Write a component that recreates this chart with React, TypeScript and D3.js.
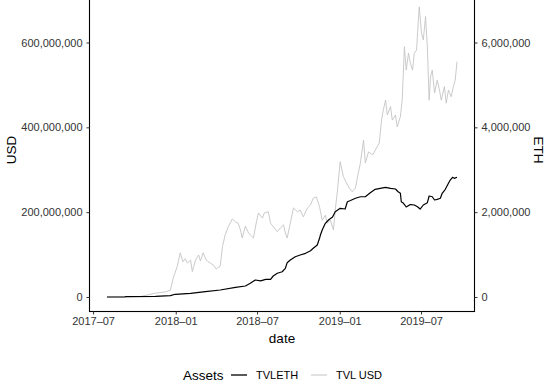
import React, { useRef, useEffect } from 'react';
import * as d3 from 'd3';

// TVL in USD (millions)
const usdDates = [
  "2017-08-01", "2017-09-11", "2017-10-14", "2017-11-17", "2017-12-09", "2017-12-20", "2017-12-27",
  "2018-01-04", "2018-01-11", "2018-01-17", "2018-01-22", "2018-01-27", "2018-02-03", "2018-02-07",
  "2018-02-14", "2018-02-21", "2018-02-25", "2018-03-03", "2018-03-10", "2018-03-19", "2018-03-26",
  "2018-04-01", "2018-04-10", "2018-04-15", "2018-04-21", "2018-04-28", "2018-05-07", "2018-05-14",
  "2018-05-20", "2018-05-25", "2018-05-29", "2018-06-05", "2018-06-12", "2018-06-16", "2018-06-23",
  "2018-06-29", "2018-07-04", "2018-07-13", "2018-07-17", "2018-07-26", "2018-07-31", "2018-08-06",
  "2018-08-15", "2018-08-22", "2018-08-29", "2018-09-02", "2018-09-06", "2018-09-13", "2018-09-20",
  "2018-09-29", "2018-10-05", "2018-10-12", "2018-10-21", "2018-10-28", "2018-11-03", "2018-11-10",
  "2018-11-17", "2018-11-23", "2018-11-30", "2018-12-04", "2018-12-11", "2018-12-18", "2018-12-22",
  "2018-12-27", "2019-01-02", "2019-01-09", "2019-01-16", "2019-01-22", "2019-01-29", "2019-02-05",
  "2019-02-09", "2019-02-16", "2019-02-23", "2019-02-27", "2019-03-06", "2019-03-15", "2019-03-21",
  "2019-03-30", "2019-04-04", "2019-04-08", "2019-04-13", "2019-04-17", "2019-04-24", "2019-04-28",
  "2019-05-05", "2019-05-09", "2019-05-16", "2019-05-20", "2019-05-25", "2019-05-29", "2019-06-03",
  "2019-06-07", "2019-06-12", "2019-06-16", "2019-06-21", "2019-06-25", "2019-06-27", "2019-07-02",
  "2019-07-06", "2019-07-11", "2019-07-15", "2019-07-19", "2019-07-22", "2019-07-26", "2019-07-31",
  "2019-08-06", "2019-08-11", "2019-08-15", "2019-08-22", "2019-08-26", "2019-08-31", "2019-09-06",
  "2019-09-11", "2019-09-15", "2019-09-19"
];
const usdValues = [
  0, 0.5, 1, 9, 12, 16, 47,
  71, 104, 83, 90, 80, 87, 60,
  87, 99, 85, 104, 87, 80, 75,
  66, 73, 119, 146, 166, 184, 177,
  174, 158, 139, 167, 151, 146, 139,
  174, 198, 186, 198, 201, 174, 166,
  154, 163, 170, 151, 139, 174, 210,
  201, 205, 189, 210, 217, 233, 236,
  213, 181, 193, 174, 181, 158, 205,
  252, 319, 284, 269, 257, 248, 257,
  280, 316, 370, 316, 342, 335, 346,
  363, 417, 441, 464, 429, 449, 417,
  429, 401, 425, 464, 590, 535, 575,
  552, 535, 575, 582, 653, 684, 622,
  606, 661, 590, 464, 519, 535, 481,
  511, 488, 464, 496, 457, 488, 472,
  496, 511, 555
];

// TVL in ETH (thousands)
const ethDates = [
  "2017-08-01", "2017-09-10", "2017-09-11", "2017-11-17", "2017-12-20", "2017-12-31", "2018-02-03",
  "2018-03-08", "2018-04-10", "2018-05-14", "2018-06-05", "2018-06-16", "2018-06-27", "2018-07-09",
  "2018-07-20", "2018-07-31", "2018-08-06", "2018-08-15", "2018-08-26", "2018-09-02", "2018-09-06",
  "2018-09-13", "2018-09-24", "2018-10-05", "2018-10-17", "2018-10-28", "2018-11-03", "2018-11-12",
  "2018-11-17", "2018-11-19", "2018-11-23", "2018-11-30", "2018-12-07", "2018-12-16", "2018-12-22",
  "2019-01-02", "2019-01-13", "2019-01-18", "2019-01-25", "2019-02-05", "2019-02-16", "2019-02-27",
  "2019-03-10", "2019-03-21", "2019-04-01", "2019-04-13", "2019-04-24", "2019-05-05", "2019-05-11",
  "2019-05-16", "2019-05-18", "2019-05-23", "2019-05-29", "2019-06-07", "2019-06-16", "2019-06-23",
  "2019-06-29", "2019-07-06", "2019-07-15", "2019-07-19", "2019-07-26", "2019-07-31", "2019-08-06",
  "2019-08-13", "2019-08-17", "2019-08-24", "2019-08-31", "2019-09-04", "2019-09-09", "2019-09-13",
  "2019-09-19"
];
const ethValues = [
  0, 0, 7, 16, 31, 64, 87,
  125, 165, 229, 259, 323, 401, 380,
  417, 417, 495, 559, 596, 677, 809,
  872, 950, 990, 1030, 1091, 1148, 1226,
  1384, 1462, 1579, 1737, 1815, 1886, 2011,
  2091, 2074, 2246, 2275, 2327, 2364, 2364,
  2459, 2539, 2562, 2586, 2562, 2546, 2482,
  2445, 2246, 2209, 2122, 2180, 2169, 2129,
  2074, 2169, 2223, 2381, 2364, 2287, 2303,
  2327, 2445, 2539, 2680, 2758, 2822, 2798,
  2822
];

const usdTicks = [0, 200e6, 400e6, 600e6];
const ethTicks = [0, 2e6, 4e6, 6e6];
const dateTicks = ["2017-07-01", "2018-01-01", "2018-07-01", "2019-01-01", "2019-07-01"];
const legendLabels = ["TVLETH", "TVL USD"];
const legendColors = ["#000000", "#c4c4c4"];

const FONT = "'Liberation Sans', Arial, sans-serif";

interface Pt { date: Date; value: number; }

export default function App() {
  const svgRef = useRef<SVGSVGElement>(null);

  useEffect(() => {
    if (!svgRef.current) return;
    const svg = d3.select(svgRef.current);
    svg.selectAll("*").remove();

    const parse = d3.timeParse("%Y-%m-%d");
    const usd: Pt[] = usdDates.map((d, i) => ({ date: parse(d) as Date, value: usdValues[i] * 1e6 }));
    const eth: Pt[] = ethDates.map((d, i) => ({ date: parse(d) as Date, value: ethValues[i] * 1e3 }));

    // x: data extent with 5% padding like ggplot
    const allDates = [...usd, ...eth].map(d => d.date);
    const [d0, d1] = d3.extent(allDates) as [Date, Date];
    const pad = (d1.getTime() - d0.getTime()) * 0.05;
    const left = 89.5, right = 474.5;
    const x = d3.scaleTime()
      .domain([new Date(d0.getTime() - pad), new Date(d1.getTime() + pad)])
      .range([left, right]);

    // y: USD on the left, ETH on the right (ETH = USD / 100)
    const yUsd = d3.scaleLinear().domain([0, 600e6]).range([297, 42.5]);
    const yEth = d3.scaleLinear().domain([0, 6e6]).range([297, 42.5]);
    const maxUsd = d3.max(usd, d => d.value) || 0;
    const bottom = yUsd(-0.05 * maxUsd);
    const top = yUsd(1.05 * maxUsd);

    const g = svg.append("g");

    // panel border (top runs off the picture)
    g.append("rect")
      .attr("x", left).attr("y", top)
      .attr("width", right - left).attr("height", bottom - top)
      .attr("fill", "none").attr("stroke", "#000").attr("stroke-width", 1.1);

    // lines
    const usdLine = d3.line<Pt>().x(d => x(d.date)).y(d => yUsd(d.value));
    const ethLine = d3.line<Pt>().x(d => x(d.date)).y(d => yEth(d.value));

    g.append("path").datum(usd)
      .attr("fill", "none").attr("stroke", legendColors[1]).attr("stroke-width", 0.9)
      .attr("stroke-linejoin", "round").attr("d", usdLine);

    g.append("path").datum(eth)
      .attr("fill", "none").attr("stroke", legendColors[0]).attr("stroke-width", 1.2)
      .attr("stroke-linejoin", "round").attr("d", ethLine);

    // axes
    const fmt = d3.format(",");
    const leftAxis = g.append("g").attr("transform", `translate(${left},0)`)
      .call(d3.axisLeft(yUsd).tickValues(usdTicks).tickFormat(d => fmt(d as number)).tickSize(3).tickPadding(4));
    leftAxis.select(".domain").remove();

    const rightAxis = g.append("g").attr("transform", `translate(${right},0)`)
      .call(d3.axisRight(yEth).tickValues(ethTicks).tickFormat(d => fmt(d as number)).tickSize(3).tickPadding(4));
    rightAxis.select(".domain").remove();

    const bottomAxis = g.append("g").attr("transform", `translate(0,${bottom})`)
      .call(d3.axisBottom(x).tickValues(dateTicks.map(d => parse(d) as Date))
        .tickFormat(d => d3.timeFormat("%Y-%m")(d as Date).replace("-", "\u2013"))
        .tickSize(3).tickPadding(3));
    bottomAxis.select(".domain").remove();

    [leftAxis, rightAxis, bottomAxis].forEach(a => {
      a.selectAll("line").attr("stroke", "#333").attr("stroke-width", 1);
      a.selectAll("text")
        .style("font-family", FONT).style("font-size", "11px").attr("fill", "#333");
    });

    // axis titles
    svg.append("text")
      .attr("transform", `translate(16,150) rotate(-90)`)
      .attr("text-anchor", "middle")
      .style("font-family", FONT).style("font-size", "13.5px").attr("fill", "#000")
      .text("USD");

    svg.append("text")
      .attr("transform", `translate(534,150) rotate(90)`)
      .attr("text-anchor", "middle")
      .style("font-family", FONT).style("font-size", "13.5px").attr("fill", "#000")
      .text("ETH");

    svg.append("text")
      .attr("x", (left + right) / 2).attr("y", 343)
      .attr("text-anchor", "middle")
      .style("font-family", FONT).style("font-size", "13.5px").attr("fill", "#000")
      .text("date");

    // legend
    const legend = svg.append("g").attr("transform", "translate(0,375)");
    legend.append("text")
      .attr("x", 183).attr("y", 0).attr("dy", "0.35em")
      .style("font-family", FONT).style("font-size", "13.5px").attr("fill", "#000")
      .text("Assets");

    const keyX = [231, 311];
    legendLabels.forEach((lab, i) => {
      legend.append("line")
        .attr("x1", keyX[i]).attr("x2", keyX[i] + 16).attr("y1", 0).attr("y2", 0)
        .attr("stroke", legendColors[i]).attr("stroke-width", i === 0 ? 1.3 : 1);
      legend.append("text")
        .attr("x", keyX[i] + 25).attr("y", 0).attr("dy", "0.35em")
        .style("font-family", FONT).style("font-size", "11px").attr("fill", "#000")
        .text(lab);
    });
  }, []);

  return (
    <svg ref={svgRef} width={550} height={386}
      style={{ position: "absolute", left: 0, top: 0, background: "#fff" }} />
  );
}
